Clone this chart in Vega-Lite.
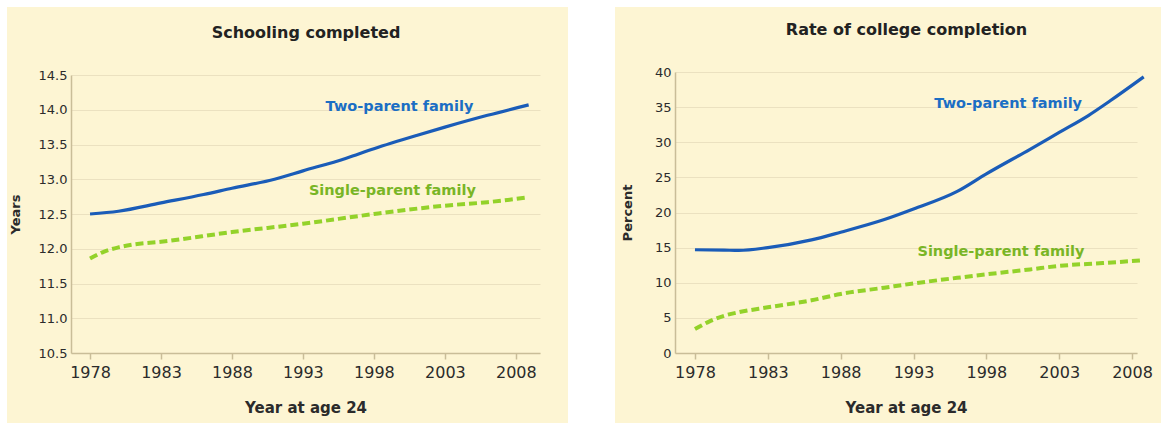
{
  "$schema": "https://vega.github.io/schema/vega-lite/v6.json",
  "background": "#fdf5d3",
  "padding": {"left": 0, "top": 0, "right": 0, "bottom": 0},
  "config": {
    "font": "DejaVu Sans",
    "view": {"stroke": null},
    "axis": {
      "domainColor": "#c9bd98",
      "domainWidth": 1.5,
      "tickColor": "#c9bd98",
      "tickWidth": 1.5,
      "gridColor": "#ebe1c0",
      "gridWidth": 1.2,
      "labelColor": "#2b2b2b",
      "titleColor": "#2b2b2b",
      "labelFont": "DejaVu Sans",
      "titleFont": "DejaVu Sans",
      "titleFontWeight": "bold"
    },
    "axisX": {"grid": false, "tickSize": 6, "labelFontSize": 16, "labelPadding": 5, "titleFontSize": 15, "titlePadding": 20, "labelFlush": false},
    "axisY": {"ticks": false, "labelFontSize": 13, "labelPadding": 4, "titleFontSize": 13}
  },
  "spacing": 0,
  "vconcat": [
    {
      "width": 1161,
      "height": 7,
      "data": {"values": []},
      "mark": "point",
      "view": {"fill": "white", "stroke": null}
    },
    {
      "spacing": 6,
      "hconcat": [
        {
          "spacing": 2,
          "hconcat": [
            {
              "width": 7,
              "height": 416,
              "data": {"values": []},
              "mark": "point",
              "view": {"fill": "white", "stroke": null}
            },
            {
              "spacing": 28,
              "hconcat": [
                {
                  "spacing": 16,
                  "vconcat": [
                    {"width": 469, "height": 1, "data": {"values": []}, "mark": "point"},
                    {
                      "width": 469,
                      "height": 278,
                      "data": {"values": [
                        {"year": 1978, "value": 12.5, "series": "Two-parent family"},
                        {"year": 1980, "value": 12.54, "series": "Two-parent family"},
                        {"year": 1983, "value": 12.66, "series": "Two-parent family"},
                        {"year": 1986, "value": 12.78, "series": "Two-parent family"},
                        {"year": 1988, "value": 12.87, "series": "Two-parent family"},
                        {"year": 1991, "value": 13.0, "series": "Two-parent family"},
                        {"year": 1993, "value": 13.12, "series": "Two-parent family"},
                        {"year": 1996, "value": 13.3, "series": "Two-parent family"},
                        {"year": 1998, "value": 13.44, "series": "Two-parent family"},
                        {"year": 2001, "value": 13.63, "series": "Two-parent family"},
                        {"year": 2003, "value": 13.75, "series": "Two-parent family"},
                        {"year": 2006, "value": 13.92, "series": "Two-parent family"},
                        {"year": 2008.9, "value": 14.07, "series": "Two-parent family"},
                        {"year": 1978, "value": 11.86, "series": "Single-parent family"},
                        {"year": 1979, "value": 11.96, "series": "Single-parent family"},
                        {"year": 1980, "value": 12.02, "series": "Single-parent family"},
                        {"year": 1981, "value": 12.06, "series": "Single-parent family"},
                        {"year": 1983, "value": 12.1, "series": "Single-parent family"},
                        {"year": 1988, "value": 12.24, "series": "Single-parent family"},
                        {"year": 1993, "value": 12.36, "series": "Single-parent family"},
                        {"year": 1998, "value": 12.5, "series": "Single-parent family"},
                        {"year": 2003, "value": 12.62, "series": "Single-parent family"},
                        {"year": 2006, "value": 12.67, "series": "Single-parent family"},
                        {"year": 2008.9, "value": 12.74, "series": "Single-parent family"}
                      ]},
                      "encoding": {
                        "y": {"field": "value", "type": "quantitative", "title": "Years",
                              "scale": {"domain": [10.5, 14.5], "nice": false, "zero": false},
                              "axis": {"values": [10.5, 11, 11.5, 12, 12.5, 13, 13.5, 14, 14.5], "format": ".1f", "titlePadding": 16}}
                      },
                      "layer": [
                        {
                          "encoding": {
                            "x": {"field": "year", "type": "quantitative", "title": "Year at age 24",
                                  "scale": {"domain": [1976.66, 2009.7], "nice": false, "zero": false},
                                  "axis": {"values": [1978, 1983, 1988, 1993, 1998, 2003, 2008], "format": "d"}}
                          },
                          "layer": [
                            {"transform": [{"filter": "datum.series === 'Two-parent family'"}],
                             "mark": {"type": "line", "interpolate": "monotone", "color": "#1a5cb8", "strokeWidth": 3.2}},
                            {"transform": [{"filter": "datum.series === 'Single-parent family'"}],
                             "mark": {"type": "line", "interpolate": "monotone", "color": "#93d22a", "strokeWidth": 4, "strokeDash": [8, 4]}}
                          ]
                        },
                        {"data": {"values": [
                          {"year": 1999.8, "value": 14.04, "label": "Two-parent family", "series": "Two-parent family"},
                          {"year": 1999.3, "value": 12.83, "label": "Single-parent family", "series": "Single-parent family"}
                        ]},
                         "mark": {"type": "text", "fontSize": 14.5, "fontWeight": "bold", "font": "DejaVu Sans"},
                         "encoding": {
                           "x": {"field": "year", "type": "quantitative",
                                 "scale": {"domain": [1976.66, 2009.7], "nice": false, "zero": false},
                                 "axis": {"orient": "top", "title": "Schooling completed",
                                          "titleFontSize": 16, "titleColor": "#222222", "titlePadding": 35,
                                          "domain": false, "ticks": false, "labels": false, "grid": false}},
                           "text": {"field": "label"},
                           "color": {"field": "series", "type": "nominal", "legend": null,
                                     "scale": {"domain": ["Two-parent family", "Single-parent family"], "range": ["#1b6ec4", "#79b526"]}}
                         }}
                      ],
                      "resolve": {"axis": {"x": "independent"}}
                    }
                  ]
                },
                {
                  "width": 47,
                  "height": 416,
                  "data": {"values": []},
                  "mark": "point",
                  "view": {"fill": "white", "stroke": null}
                }
              ]
            }
          ]
        },
        {
          "spacing": 13,
          "vconcat": [
            {"width": 462, "height": 1, "data": {"values": []}, "mark": "point"},
            {
              "width": 462,
              "height": 281,
              "data": {"values": [
                {"year": 1978, "value": 14.7, "series": "Two-parent family"},
                {"year": 1980, "value": 14.65, "series": "Two-parent family"},
                {"year": 1981, "value": 14.6, "series": "Two-parent family"},
                {"year": 1983, "value": 15.0, "series": "Two-parent family"},
                {"year": 1986, "value": 16.1, "series": "Two-parent family"},
                {"year": 1988, "value": 17.2, "series": "Two-parent family"},
                {"year": 1991, "value": 19.0, "series": "Two-parent family"},
                {"year": 1993, "value": 20.5, "series": "Two-parent family"},
                {"year": 1996, "value": 23.0, "series": "Two-parent family"},
                {"year": 1998, "value": 25.5, "series": "Two-parent family"},
                {"year": 2001, "value": 29.0, "series": "Two-parent family"},
                {"year": 2003, "value": 31.4, "series": "Two-parent family"},
                {"year": 2005, "value": 33.8, "series": "Two-parent family"},
                {"year": 2006.5, "value": 35.9, "series": "Two-parent family"},
                {"year": 2008.8, "value": 39.3, "series": "Two-parent family"},
                {"year": 1978, "value": 3.4, "series": "Single-parent family"},
                {"year": 1979, "value": 4.5, "series": "Single-parent family"},
                {"year": 1980, "value": 5.3, "series": "Single-parent family"},
                {"year": 1981, "value": 5.8, "series": "Single-parent family"},
                {"year": 1983, "value": 6.5, "series": "Single-parent family"},
                {"year": 1986, "value": 7.5, "series": "Single-parent family"},
                {"year": 1988, "value": 8.4, "series": "Single-parent family"},
                {"year": 1991, "value": 9.3, "series": "Single-parent family"},
                {"year": 1993, "value": 9.9, "series": "Single-parent family"},
                {"year": 1996, "value": 10.7, "series": "Single-parent family"},
                {"year": 1998, "value": 11.2, "series": "Single-parent family"},
                {"year": 2001, "value": 11.9, "series": "Single-parent family"},
                {"year": 2003, "value": 12.4, "series": "Single-parent family"},
                {"year": 2006, "value": 12.8, "series": "Single-parent family"},
                {"year": 2008.8, "value": 13.2, "series": "Single-parent family"}
              ]},
              "encoding": {
                "y": {"field": "value", "type": "quantitative", "title": "Percent",
                      "scale": {"domain": [0, 40], "nice": false},
                      "axis": {"values": [0, 5, 10, 15, 20, 25, 30, 35, 40], "titlePadding": 20}}
              },
              "layer": [
                {
                  "encoding": {
                    "x": {"field": "year", "type": "quantitative", "title": "Year at age 24",
                          "scale": {"domain": [1976.63, 2008.34], "nice": false, "zero": false},
                          "axis": {"values": [1978, 1983, 1988, 1993, 1998, 2003, 2008], "format": "d"}}
                  },
                  "layer": [
                    {"transform": [{"filter": "datum.series === 'Two-parent family'"}],
                     "mark": {"type": "line", "interpolate": "monotone", "color": "#1a5cb8", "strokeWidth": 3.2}},
                    {"transform": [{"filter": "datum.series === 'Single-parent family'"}],
                     "mark": {"type": "line", "interpolate": "monotone", "color": "#93d22a", "strokeWidth": 4, "strokeDash": [8, 4]}}
                  ]
                },
                {"data": {"values": [
                  {"year": 1999.5, "value": 35.4, "label": "Two-parent family", "series": "Two-parent family"},
                  {"year": 1999.0, "value": 14.4, "label": "Single-parent family", "series": "Single-parent family"}
                ]},
                 "mark": {"type": "text", "fontSize": 14.5, "fontWeight": "bold", "font": "DejaVu Sans"},
                 "encoding": {
                   "x": {"field": "year", "type": "quantitative",
                         "scale": {"domain": [1976.63, 2008.34], "nice": false, "zero": false},
                         "axis": {"orient": "top", "title": "Rate of college completion",
                                  "titleFontSize": 16, "titleColor": "#222222", "titlePadding": 35,
                                  "domain": false, "ticks": false, "labels": false, "grid": false}},
                   "text": {"field": "label"},
                   "color": {"field": "series", "type": "nominal", "legend": null,
                             "scale": {"domain": ["Two-parent family", "Single-parent family"], "range": ["#1b6ec4", "#79b526"]}}
                 }}
              ],
              "resolve": {"axis": {"x": "independent"}}
            }
          ]
        }
      ]
    }
  ]
}
